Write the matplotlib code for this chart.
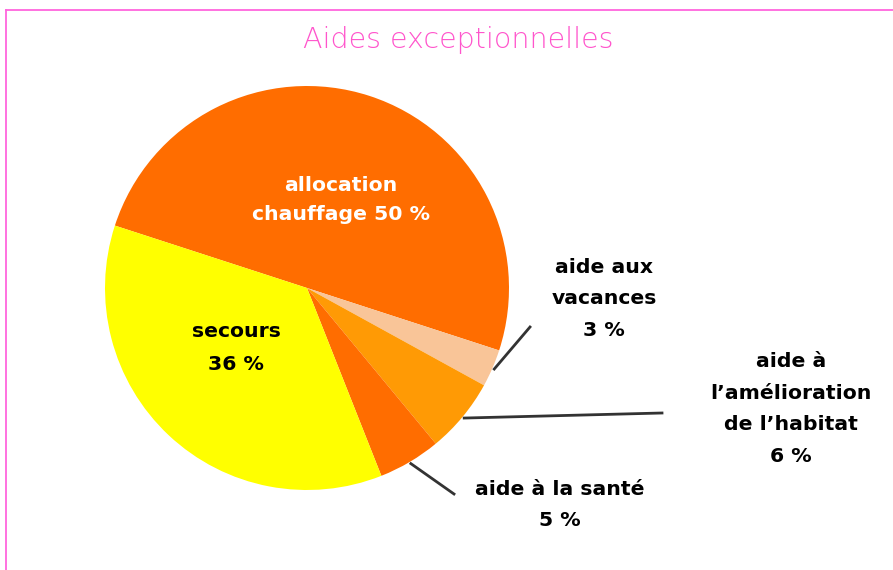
import numpy as np
import matplotlib
matplotlib.use("Agg")
import matplotlib.pyplot as plt
from matplotlib.lines import Line2D

# Répartition des aides exceptionnelles (en %)
categories = ["allocation chauffage", "aide aux vacances",
              "aide à l’amélioration de l’habitat", "aide à la santé", "secours"]
values = [50, 3, 6, 5, 36]
colors = ["#FF6D00", "#F9C598", "#FF9A05", "#FF6D00", "#FFFF00"]
labels = ["allocation\nchauffage {} %", "aide aux\nvacances\n{} %",
          "aide à\nl’amélioration\nde l’habitat\n{} %", "aide à la santé\n{} %",
          "secours\n{} %"]

W, H = 893, 570
fig = plt.figure(figsize=(W / 100, H / 100), dpi=100)
ax = fig.add_axes([0, 0, 1, 1])

# pink frame (only top and left sides are visible)
fig.add_artist(Line2D([6 / W, 6 / W], [0, 1 - 10 / H], color="#FF66DD", lw=1.3))
fig.add_artist(Line2D([6 / W, 1], [1 - 10 / H, 1 - 10 / H], color="#FF66DD", lw=1.3))

cx, cy, r = 307, 288, 202
start = 198  # y axis points down, so angles run clockwise on screen
wedges, _ = ax.pie(values, colors=colors, startangle=start, counterclock=True,
                   center=(cx, cy), radius=r, frame=True,
                   wedgeprops=dict(linewidth=0))
ax.set_xlim(0, W)
ax.set_ylim(H, 0)
ax.set_aspect("equal")
ax.axis("off")

ax.text(458, 40, "Aides exceptionnelles", ha="center", va="center",
        fontsize=20.5, color="#FF55CC", family="DejaVu Sans", fontweight="light")

font = dict(fontsize=14.7, fontweight="bold", family="DejaVu Sans",
            ha="center", va="center")

# labels inside the big slices
ax.text(341, 200, labels[0].format(values[0]), color="white",
        linespacing=1.7, **font)
ax.text(236, 348, labels[4].format(values[4]), color="black",
        linespacing=1.95, **font)

# outside labels with leader lines: (text position, leader end)
outside = {
    1: ((604, 299), (530, 327)),
    2: ((791, 409), (662, 413)),
    3: ((560, 505), (454, 494)),
}
for i, (tpos, end) in outside.items():
    w = wedges[i]
    mid = np.deg2rad((w.theta1 + w.theta2) / 2)
    sx = cx + 1.01 * r * np.cos(mid)
    sy = cy + 1.01 * r * np.sin(mid)
    ax.plot([sx, end[0]], [sy, end[1]], color="#333333", lw=2)
    ax.text(tpos[0], tpos[1], labels[i].format(values[i]), color="black",
            linespacing=1.85, **font)

fig.savefig("out.png", dpi=100, facecolor="white")
